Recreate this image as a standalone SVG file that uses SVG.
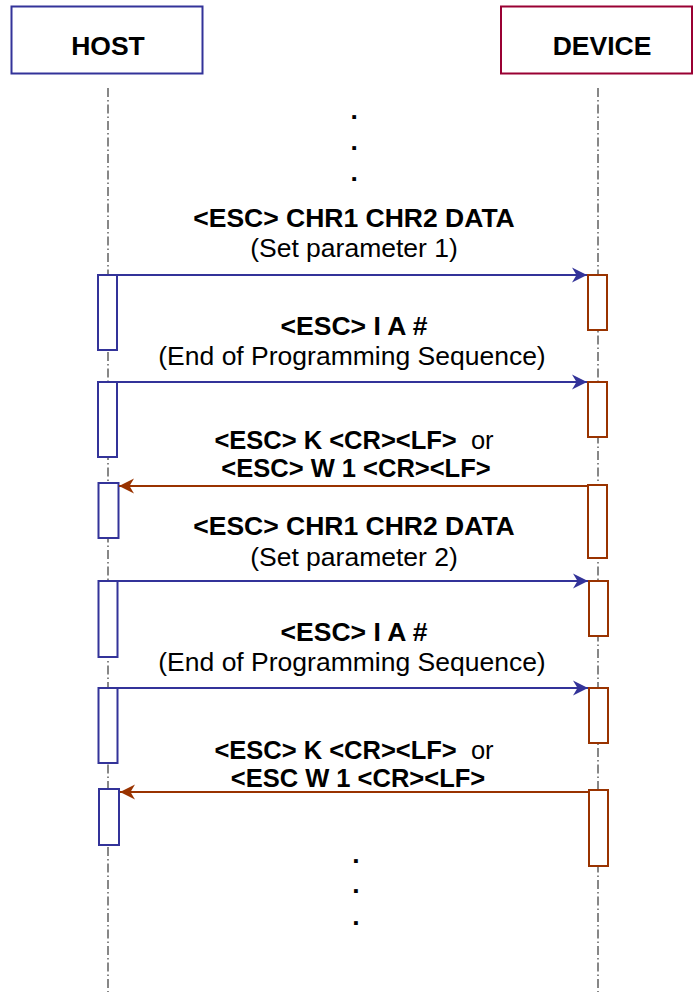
<svg xmlns="http://www.w3.org/2000/svg" width="694" height="992" viewBox="0 0 694 992">
<style>
text{font-family:"Liberation Sans",Arial,sans-serif;font-size:26.5px;fill:#000;text-anchor:middle}
.b{font-weight:bold}
.s{font-size:25.5px}
.life{stroke:#555;stroke-width:1.4;stroke-dasharray:9 3 1.5 3;fill:none}
.hact{fill:#fff;stroke:#333399;stroke-width:2}
.dact{fill:#fff;stroke:#993300;stroke-width:2}
.blue{stroke:#333399;stroke-width:2;fill:none}
.brown{stroke:#993300;stroke-width:2;fill:none}
</style>
<defs>
<marker id="ab" viewBox="0 0 16 16" refX="15" refY="8" markerWidth="16" markerHeight="16" markerUnits="userSpaceOnUse" orient="auto">
<path d="M15,8 L0,0.5 L4.5,8 L0,15.5 Z" fill="#333399"/>
</marker>
<marker id="ar" viewBox="0 0 16 16" refX="15" refY="8" markerWidth="16" markerHeight="16" markerUnits="userSpaceOnUse" orient="auto">
<path d="M15,8 L0,0.5 L4.5,8 L0,15.5 Z" fill="#993300"/>
</marker>
</defs>
<rect width="694" height="992" fill="#fff"/>
<g id="lifelines">
<line class="life" x1="108" y1="88" x2="108" y2="992"/>
<line class="life" x1="598" y1="88" x2="598" y2="992"/>
</g>
<g id="host">
<rect x="11.5" y="6.5" width="191" height="67" fill="#fff" stroke="#333399" stroke-width="2"/>
<text class="b" x="108" y="54.5">HOST</text>
</g>
<g id="device">
<rect x="501" y="6.5" width="191" height="67" fill="#fff" stroke="#990033" stroke-width="2"/>
<text class="b" x="602" y="54.5">DEVICE</text>
</g>
<g id="host-activations">
<rect class="hact" x="98" y="275" width="19" height="75"/>
<rect class="hact" x="98" y="382" width="19" height="75"/>
<rect class="hact" x="98.5" y="483" width="20" height="55"/>
<rect class="hact" x="98.5" y="581" width="19" height="76"/>
<rect class="hact" x="98.5" y="688" width="19" height="75"/>
<rect class="hact" x="99" y="789" width="20" height="56"/>
</g>
<g id="device-activations">
<rect class="dact" x="588" y="275" width="19" height="55"/>
<rect class="dact" x="588" y="382" width="19" height="55"/>
<rect class="dact" x="588" y="485" width="19" height="73"/>
<rect class="dact" x="589" y="581" width="19" height="55"/>
<rect class="dact" x="589" y="688" width="19" height="55"/>
<rect class="dact" x="589" y="790" width="19" height="76"/>
</g>
<g id="connectors">
<line class="blue" x1="117" y1="275" x2="587" y2="275" marker-end="url(#ab)"/>
<line class="blue" x1="117" y1="382" x2="587" y2="382" marker-end="url(#ab)"/>
<line class="brown" x1="588" y1="486" x2="119" y2="486" marker-end="url(#ar)"/>
<line class="blue" x1="118" y1="581" x2="588" y2="581" marker-end="url(#ab)"/>
<line class="blue" x1="118" y1="688" x2="588" y2="688" marker-end="url(#ab)"/>
<line class="brown" x1="589" y1="792" x2="120" y2="792" marker-end="url(#ar)"/>
</g>
<g id="labels">
<text class="b" x="354.3" y="118.5">.</text>
<text class="b" x="354.3" y="149.5">.</text>
<text class="b" x="354.3" y="180.5">.</text>
<text class="b" x="354" y="226.5">&lt;ESC&gt; CHR1 CHR2 DATA</text>
<text x="354" y="256.5">(Set parameter 1)</text>
<text class="b" x="354" y="335">&lt;ESC&gt; I A #</text>
<text x="352" y="365">(End of Programming Sequence)</text>
<text class="s" x="354" y="448.5" xml:space="preserve"><tspan class="b">&lt;ESC&gt; K &lt;CR&gt;&lt;LF&gt;</tspan>  or</text>
<text class="b s" x="356" y="477">&lt;ESC&gt; W 1 &lt;CR&gt;&lt;LF&gt;</text>
<text class="b" x="354" y="535">&lt;ESC&gt; CHR1 CHR2 DATA</text>
<text x="354" y="566">(Set parameter 2)</text>
<text class="b" x="354" y="641">&lt;ESC&gt; I A #</text>
<text x="352" y="671">(End of Programming Sequence)</text>
<text class="s" x="354" y="759" xml:space="preserve"><tspan class="b">&lt;ESC&gt; K &lt;CR&gt;&lt;LF&gt;</tspan>  or</text>
<text class="b s" x="358" y="787">&lt;ESC W 1 &lt;CR&gt;&lt;LF&gt;</text>
<text class="b" x="356" y="862.5">.</text>
<text class="b" x="356" y="893">.</text>
<text class="b" x="356" y="924.5">.</text>
</g>
</svg>
